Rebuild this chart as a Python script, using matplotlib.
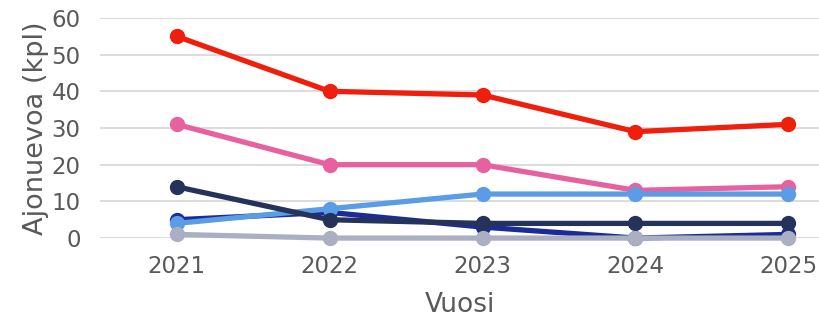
import matplotlib.pyplot as plt

years = ["2021", "2022", "2023", "2024", "2025"]
red = [55, 40, 39, 29, 31]
pink = [31, 20, 20, 13, 14]
blue = [5, 7, 3, 0, 1]
light_blue = [4, 8, 12, 12, 12]
navy = [14, 5, 4, 4, 4]
gray = [1, 0, 0, 0, 0]

series = [
    (red, "#f01e0c"),
    (pink, "#e8619f"),
    (blue, "#1b2c9a"),
    (light_blue, "#5b9ce6"),
    (navy, "#25325a"),
    (gray, "#aab0c2"),
]

fig = plt.figure(figsize=(8.2, 3.2), dpi=100)
ax = fig.add_axes([0.122, 0.256, 0.878, 0.688])

x = list(range(len(years)))
for vals, col in series:
    ax.plot(x, vals, color=col, lw=3.8, marker="o", markersize=10,
            solid_capstyle="round", clip_on=False, zorder=3)

ax.set_ylim(0, 60)
ax.set_xlim(-0.5, 4.206)
ax.set_yticks(range(0, 61, 10))
ax.set_xticks(x)
ax.set_xticklabels(years)
ax.grid(axis="y", color="#d9d9d9", lw=1.3)
ax.set_axisbelow(True)
for s in ax.spines.values():
    s.set_visible(False)
ax.tick_params(length=0, labelsize=16.5, labelcolor="#595959", pad=12)
ax.tick_params(axis="y", pad=14)
ax.set_xlabel("Vuosi", fontsize=19, color="#595959", labelpad=10)
ax.set_ylabel("Ajonuevoa (kpl)", fontsize=19.5, color="#595959", labelpad=2)

fig.savefig("out.png", dpi=100)
